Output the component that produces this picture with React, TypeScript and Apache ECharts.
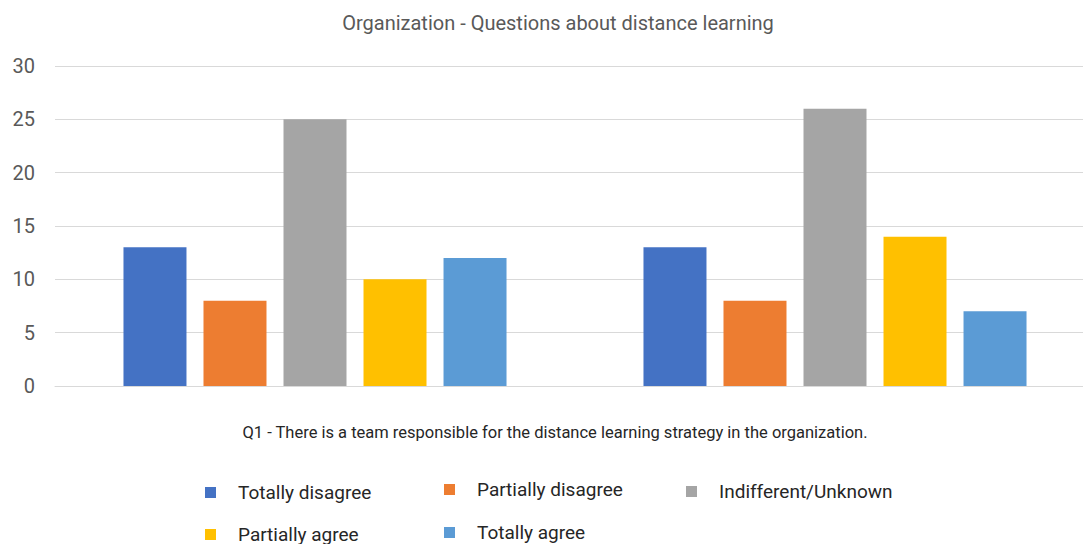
import React, { useEffect, useRef } from "react";
import * as echarts from "echarts";

const title = "Organization - Questions about distance learning";
const categories = ["Q1 (a)", "Q1 (b)"];
const axisCaption = "Q1 - There is a team responsible for the distance learning strategy in the organization.";
const seriesNames = ["Totally disagree", "Partially disagree", "Indifferent/Unknown", "Partially agree", "Totally agree"];
const totallyDisagree = [13, 13];
const partiallyDisagree = [8, 8];
const indifferent = [25, 26];
const partiallyAgree = [10, 14];
const totallyAgree = [12, 7];
const colors = ["#4472C4", "#ED7D31", "#A5A5A5", "#FFC000", "#5B9BD5"];
const legendPos = [
  { left: 205, top: 483 },
  { left: 444, top: 480 },
  { left: 686, top: 482 },
  { left: 205, top: 525 },
  { left: 444, top: 523 },
];

export default function App() {
  const ref = useRef<HTMLDivElement>(null);
  useEffect(() => {
    if (!ref.current) return;
    const chart = echarts.init(ref.current, null, { renderer: "svg" });
    const values = [totallyDisagree, partiallyDisagree, indifferent, partiallyAgree, totallyAgree];
    chart.setOption({
      animation: false,
      backgroundColor: "#ffffff",
      title: {
        text: title,
        left: 553,
        textAlign: "center",
        top: 8,
        textStyle: { fontFamily: "Roboto", fontSize: 20, fontWeight: "normal", color: "#595959" },
      },
      grid: { left: 55, top: 66, width: 1040, height: 320 },
      xAxis: {
        type: "category",
        data: categories,
        axisLabel: { show: false },
        axisTick: { show: false },
        axisLine: { lineStyle: { color: "#d9d9d9" } },
      },
      yAxis: {
        type: "value",
        min: 0,
        max: 30,
        interval: 5,
        axisLabel: { fontFamily: "Roboto", fontSize: 20, color: "#595959", margin: 20 },
        splitLine: { lineStyle: { color: "#d9d9d9" } },
        axisLine: { show: false },
        axisTick: { show: false },
      },
      legend: legendPos.map((p, i) => ({
        data: [seriesNames[i]],
        left: p.left,
        top: p.top,
        padding: 0,
        icon: "rect",
        itemWidth: 11,
        itemHeight: 11,
        textStyle: { fontFamily: "Roboto", fontSize: 19, color: "#262626", padding: [0, 0, 0, 17] },
      })),
      graphic: [
        {
          type: "text",
          x: 555,
          y: 432,
          style: {
            text: axisCaption,
            textAlign: "center",
            textVerticalAlign: "middle",
            font: "16.5px Roboto",
            fill: "#262626",
          },
        },
      ],
      series: seriesNames.map((name, i) => ({
        name,
        type: "bar",
        data: values[i],
        barWidth: 63,
        barGap: "27%",
        itemStyle: { color: colors[i] },
      })),
    });
    return () => chart.dispose();
  }, []);
  return (
    <div style={{ position: "fixed", left: 0, top: 0, width: 1083, height: 544, overflow: "hidden", background: "#fff" }}>
      <div ref={ref} style={{ width: 1100, height: 544 }} />
    </div>
  );
}
